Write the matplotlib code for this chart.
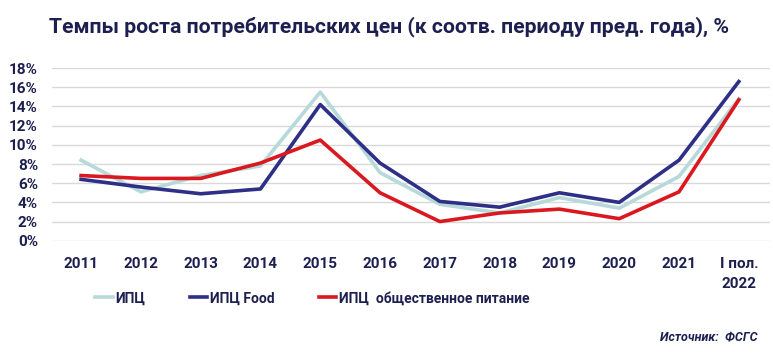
import numpy as np
import matplotlib.pyplot as plt
from matplotlib.ticker import FuncFormatter

years = ["2011", "2012", "2013", "2014", "2015", "2016", "2017", "2018",
         "2019", "2020", "2021", "I пол.\n2022"]
cpi = [8.4, 5.1, 6.8, 7.8, 15.5, 7.1, 3.8, 2.9, 4.5, 3.4, 6.7, 14.8]
cpi_food = [6.4, 5.6, 4.9, 5.4, 14.2, 8.1, 4.1, 3.5, 5.0, 4.0, 8.4, 16.6]
cpi_catering = [6.8, 6.5, 6.5, 8.1, 10.5, 5.0, 2.0, 2.9, 3.3, 2.3, 5.1, 14.7]

navy = "#1c1f4f"
narrow = ["Roboto", "DejaVu Sans"]

fig = plt.figure(figsize=(7.73, 3.53), dpi=100)
ax = fig.add_axes([0.067, 0.318, 0.929, 0.489])

x = np.arange(len(years))
ax.plot(x, cpi, color="#b7d9d9", lw=2.6, label="ИПЦ", zorder=2)
ax.plot(x, cpi_food, color="#2e2f86", lw=2.6, label="ИПЦ Food", zorder=3)
ax.plot(x, cpi_catering, color="#d9181f", lw=2.6,
        label="ИПЦ  общественное питание", zorder=4)

ax.set_ylim(0, 18)
ax.set_yticks(np.arange(0, 19, 2))
ax.yaxis.set_major_formatter(FuncFormatter(lambda v, p: f"{v:.0f}%"))
ax.set_xlim(-0.49, 11.52)
ax.set_xticks(x)
ax.set_xticklabels(years)
ax.grid(axis="y", color="#d9d9d9", lw=1)
ax.set_axisbelow(True)
for s in ax.spines.values():
    s.set_visible(False)
ax.tick_params(length=0, labelcolor=navy, labelsize=11)
ax.tick_params(axis="x", pad=12)
ax.tick_params(axis="y", pad=10)
for lab in ax.get_xticklabels() + ax.get_yticklabels():
    lab.set_family(narrow)
    lab.set_fontweight("bold")
for lab in ax.get_xticklabels():
    lab.set_verticalalignment("top")
    lab.set_linespacing(1.5)

fig.text(0.503, 0.925, "Темпы роста потребительских цен (к соотв. периоду пред. года), %",
         ha="center", va="center", fontsize=15.2, fontweight="bold",
         color=navy, family=["Roboto", "DejaVu Sans"])

leg = fig.legend(loc="center left", bbox_to_anchor=(0.107, 0.155), ncol=3,
                 frameon=False, handlelength=1.25, handletextpad=0.2,
                 columnspacing=3.2, prop={"family": narrow, "weight": "bold", "size": 10})
for t in leg.get_texts():
    t.set_color(navy)

fig.text(0.98, 0.045, "Источник:  ФСГС", ha="right", va="center", fontsize=9,
         fontweight="bold", style="italic", color=navy, family=narrow)

fig.savefig("out.png", dpi=100)
